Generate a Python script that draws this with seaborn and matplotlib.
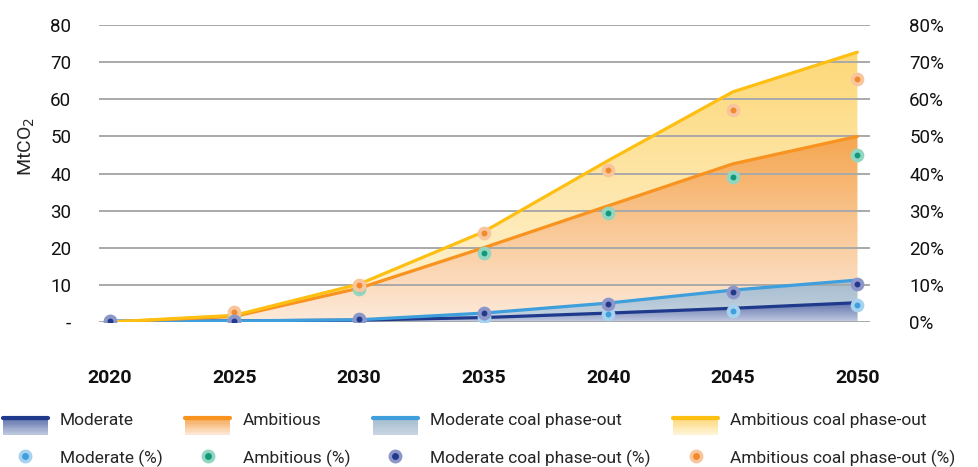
import numpy as np
import seaborn as sns
import matplotlib
matplotlib.use('Agg')
import matplotlib.pyplot as plt
from matplotlib.colors import LinearSegmentedColormap, to_rgb
from matplotlib.legend_handler import HandlerBase
from matplotlib.patches import Rectangle
from matplotlib.lines import Line2D

# ---- data (MtCO2 lines, % dots) ----
years = [2020, 2025, 2030, 2035, 2040, 2045, 2050]
moderate = [0.2, 0.3, 0.5, 1.2, 2.4, 3.7, 5.2]
ambitious = [0.0, 1.5, 9.1, 20.0, 31.3, 42.6, 50.0]
moderate_coal = [0.2, 0.3, 0.6, 2.4, 5.1, 8.6, 11.3]
ambitious_coal = [0.0, 1.8, 10.2, 24.3, 43.5, 62.0, 72.7]

moderate_pct = [0.2, 0.2, 0.4, 1.4, 2.1, 3.0, 4.7]
ambitious_pct = [np.nan, 1.5, 8.9, 18.5, 29.4, 39.0, 45.0]
moderate_coal_pct = [0.3, 0.3, 0.8, 2.4, 4.9, 8.1, 10.2]
ambitious_coal_pct = [np.nan, 2.7, 10.0, 24.0, 41.0, 57.0, 65.5]

series_names = ["Moderate", "Ambitious", "Moderate coal phase-out", "Ambitious coal phase-out"]

sns.set_style("white")
plt.rcParams['font.family'] = ['Roboto', 'DejaVu Sans']

line_cols = ["#1f3a8c", "#f7931e", "#3f9fdc", "#fdbf12"]
fill_top = ["#5d70aa", "#f5a650", "#a3bbcf", "#fdd878"]
fill_bot = ["#c3cce2", "#fdeadb", "#c9d6e2", "#fff5dc"]
dot_face = ["#3f9fdc", "#12997a", "#22398c", "#f08a2c"]
dot_halo = ["#a6d2f0", "#92d6c1", "#8d96c9", "#f9c59c"]

fig = plt.figure(figsize=(9.79, 4.67), dpi=100)
ax = fig.add_axes([0.101, 0.3105, 0.788, 0.6358])
ax2 = ax.twinx()

x = np.array(years, dtype=float)
lines = [moderate, ambitious, moderate_coal, ambitious_coal]


def grad_fill(ax, x, y, c_top, c_bot, z):
    y = np.asarray(y)
    poly = ax.fill_between(x, 0, y, color='none', lw=0, zorder=z)
    cmap = LinearSegmentedColormap.from_list('g', [c_bot, c_top])
    grad = np.linspace(0, 1, 256).reshape(-1, 1)
    im = ax.imshow(grad, cmap=cmap, aspect='auto', origin='lower',
                   extent=[x.min(), x.max(), 0, y.max()], zorder=z,
                   interpolation='bilinear')
    im.set_clip_path(poly.get_paths()[0], ax.transData)


# draw back to front: ambitious coal, ambitious, moderate coal, moderate
for i, z in zip([3, 1, 2, 0], [1.0, 1.1, 1.2, 1.3]):
    grad_fill(ax, x, lines[i], fill_top[i], fill_bot[i], z)

for i in [0, 2, 1, 3]:
    sns.lineplot(x=years, y=lines[i], ax=ax, color=line_cols[i], lw=2.3,
                 zorder=3, legend=False)

pcts = [moderate_pct, ambitious_pct, moderate_coal_pct, ambitious_coal_pct]
for i in [0, 1, 3, 2]:
    sns.scatterplot(x=years, y=pcts[i], ax=ax2, s=50, color=dot_face[i],
                    edgecolor=dot_halo[i], linewidth=2.8, zorder=5, legend=False)

ax.set_xlim(2019.56, 2050.52)
ax.set_ylim(0, 80)
ax2.set_ylim(0, 80)
ax.set_xticks(years)
ax.set_xticklabels([str(y) for y in years], fontsize=14, fontweight='bold')
ax.set_yticks(range(0, 81, 10))
ax.set_yticklabels(['-'] + [str(v) for v in range(10, 81, 10)], fontsize=13.5)
ax2.set_yticks(range(0, 81, 10))
ax2.set_yticklabels([f"{v}%" for v in range(0, 81, 10)], fontsize=13.5)
ax.tick_params(axis='x', length=0, pad=34, colors='#111111')
ax.tick_params(axis='y', length=0, pad=20, colors='#111111')
ax2.tick_params(axis='y', length=0, pad=28, colors='#111111')

ax.set_axisbelow('line')
ax.grid(axis='y', color='#a9a9a9', lw=1.4)
ax.grid(axis='x', visible=False)
ax2.grid(False)
for a in (ax, ax2):
    for s in a.spines.values():
        s.set_visible(False)

ax.set_ylabel("MtCO$_2$", fontsize=14)
ax.yaxis.set_label_coords(-0.08, 0.59)
ax2.set_ylabel("")


class GradHandler(HandlerBase):
    def __init__(self, lc, top, bot):
        super().__init__()
        self.lc, self.top, self.bot = lc, top, bot

    def create_artists(self, legend, orig_handle, xdescent, ydescent,
                       width, height, fontsize, trans):
        arts = []
        n = 14
        x0 = -xdescent
        ytop = -ydescent + 0.55 * height
        h = height * 1.05
        t, b = np.array(to_rgb(self.top)), np.array(to_rgb(self.bot))
        for k in range(n):
            f = k / n
            c = t * (1 - f) + b * f
            arts.append(Rectangle((x0, ytop - h * (k + 1) / n), width, h / n + 0.3,
                                  facecolor=c, edgecolor='none', transform=trans))
        arts.append(Line2D([x0, x0 + width], [ytop, ytop], color=self.lc,
                           lw=3, transform=trans))
        return arts


handles, labels, hmap = [], [], {}
for i, name in enumerate(series_names):
    h1 = Rectangle((0, 0), 1, 1)
    hmap[h1] = GradHandler(line_cols[i], fill_top[i], fill_bot[i])
    h2 = Line2D([], [], ls='none', marker='o', markersize=7.5,
                markerfacecolor=dot_face[i], markeredgecolor=dot_halo[i], markeredgewidth=2.5)
    handles += [h1, h2]
    labels += [name, name + " (%)"]

fig.legend(handles, labels, handler_map=hmap, loc='lower left',
           bbox_to_anchor=(0.0, -0.006), ncol=4, frameon=False, fontsize=12.5,
           handlelength=2.6, handleheight=1.0, handletextpad=0.7,
           columnspacing=1.3, labelspacing=1.25, borderaxespad=0.0, borderpad=0.15)

fig.savefig("out.png", dpi=100)
